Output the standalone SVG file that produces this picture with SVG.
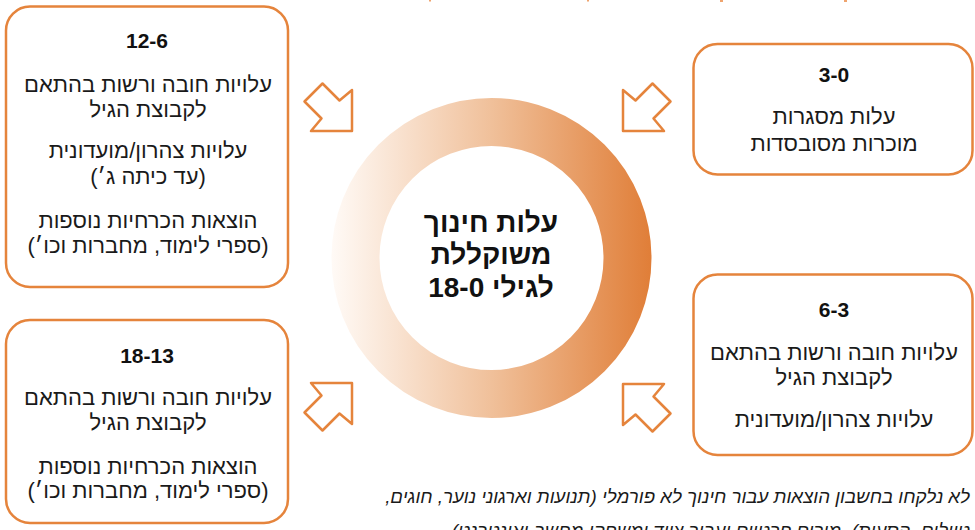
<svg xmlns="http://www.w3.org/2000/svg" width="975" height="530" viewBox="0 0 975 530">
<defs>
<style>
.box{fill:#fff;stroke:#E5843C;stroke-width:2.5}
.arrow{fill:#fff;stroke:#E5843C;stroke-width:2.5;stroke-linejoin:round}
.hd{font-family:"Liberation Sans","DejaVu Sans",sans-serif;font-weight:bold;font-size:21px;fill:#111;text-anchor:middle}
.tx{font-family:"Liberation Sans","DejaVu Sans",sans-serif;font-size:22px;fill:#1a1a1a;text-anchor:middle;direction:rtl}
.ct{font-family:"Liberation Sans","DejaVu Sans",sans-serif;font-weight:bold;font-size:28px;fill:#111;text-anchor:middle;direction:rtl}
.fn{font-family:"Liberation Sans","DejaVu Sans",sans-serif;font-style:italic;font-size:18.7px;fill:#1a1a1a;text-anchor:start;direction:rtl}
</style>
<linearGradient id="ringGrad" gradientUnits="userSpaceOnUse" x1="332" y1="0" x2="651" y2="0">
<stop offset="0" stop-color="#FFFAF6"/>
<stop offset="0.5" stop-color="#F0C09A"/>
<stop offset="1" stop-color="#E07E38"/>
</linearGradient>
<polygon id="arr" points="0,0 0,-41 -12.5,-30.5 -29.5,-47.5 -47.5,-29.5 -30.5,-12.5 -41,0"/>
</defs>
<rect width="975" height="530" fill="#fff"/>
<g id="top-marks" fill="#EFA46E">
<rect x="429" y="0" width="2" height="1.5"/>
<rect x="587" y="0" width="2" height="1.5"/>
<rect x="720" y="0" width="3" height="2"/>
<rect x="844" y="0" width="3" height="2"/>
</g>
<g id="center">
<circle cx="491.5" cy="258" r="136" fill="none" stroke="url(#ringGrad)" stroke-width="48"/>
<text class="ct" x="491" y="232">עלות חינוך</text>
<text class="ct" x="491" y="264">משוקללת</text>
<text class="ct" x="491" y="297">לגילי 18-0</text>
</g>
<g id="connectors">
<use href="#arr" class="arrow" transform="translate(352,131)"/>
<use href="#arr" class="arrow" transform="translate(623,131) scale(-1,1)"/>
<use href="#arr" class="arrow" transform="translate(352,383) scale(1,-1)"/>
<use href="#arr" class="arrow" transform="translate(623,384) scale(-1,-1)"/>
</g>
<g id="box-6-12">
<rect class="box" x="6" y="6.5" width="282" height="280.5" rx="24"/>
<text class="hd" x="147" y="48">12-6</text>
<text class="tx" x="148" y="92">עלויות חובה ורשות בהתאם</text>
<text class="tx" x="148" y="117">לקבוצת הגיל</text>
<text class="tx" x="148" y="158">עלויות צהרון/מועדונית</text>
<text class="tx" x="148" y="184">(עד כיתה ג׳)</text>
<text class="tx" x="148" y="228">הוצאות הכרחיות נוספות</text>
<text class="tx" x="148" y="253">(ספרי לימוד, מחברות וכו׳)</text>
</g>
<g id="box-0-3">
<rect class="box" x="693.5" y="44" width="279" height="130.5" rx="24"/>
<text class="hd" x="834" y="82">3-0</text>
<text class="tx" x="834" y="124">עלות מסגרות</text>
<text class="tx" x="834" y="151">מוכרות מסובסדות</text>
</g>
<g id="box-3-6">
<rect class="box" x="693.5" y="274.5" width="279" height="180.5" rx="24"/>
<text class="hd" x="834" y="317">6-3</text>
<text class="tx" x="834" y="360">עלויות חובה ורשות בהתאם</text>
<text class="tx" x="834" y="385">לקבוצת הגיל</text>
<text class="tx" x="834" y="427">עלויות צהרון/מועדונית</text>
</g>
<g id="box-13-18">
<rect class="box" x="6" y="320" width="282" height="203" rx="24"/>
<text class="hd" x="147" y="363">18-13</text>
<text class="tx" x="148" y="405">עלויות חובה ורשות בהתאם</text>
<text class="tx" x="148" y="430">לקבוצת הגיל</text>
<text class="tx" x="148" y="474">הוצאות הכרחיות נוספות</text>
<text class="tx" x="148" y="498">(ספרי לימוד, מחברות וכו׳)</text>
</g>
<g id="footnote">
<text class="fn" x="970" y="503">לא נלקחו בחשבון הוצאות עבור חינוך לא פורמלי (תנועות וארגוני נוער, חוגים,</text>
<text class="fn" x="970" y="537">טיולים, הסעות), מורים פרטיים ועבור ציוד ומשחקי מחשב ואינטרנט)</text>
</g>
</svg>
